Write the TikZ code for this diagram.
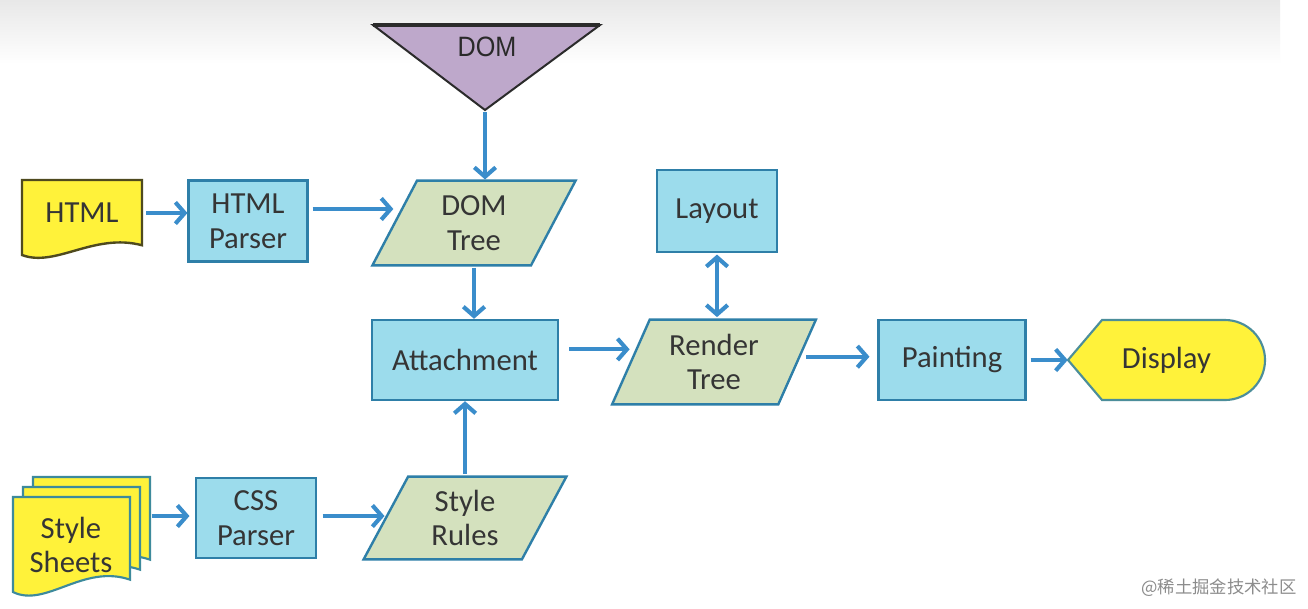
\documentclass[tikz,border=0pt]{standalone}
\usepackage{fontspec}
\setmainfont{Carlito}
\newfontfamily\cjkfont{Noto Sans CJK SC}
\newfontfamily\domfont{Liberation Sans}
\usetikzlibrary{shapes.geometric,arrows.meta,calc}
\definecolor{boxfill}{HTML}{9CDCEC}
\definecolor{boxline}{HTML}{2E7FA8}
\definecolor{parafill}{HTML}{D4E1BE}
\definecolor{yellowc}{HTML}{FFF23A}
\definecolor{htmlline}{HTML}{4F4A1E}
\definecolor{ssline}{HTML}{3D8A9C}
\definecolor{displine}{HTML}{4C8E9A}
\definecolor{domfill}{HTML}{BEA8CB}
\definecolor{domline}{HTML}{2B2B2B}
\definecolor{arrowc}{HTML}{3A8DCB}
\definecolor{textc}{HTML}{353535}
\newcommand{\docshape}[5]{%
  \path[#1] (#2,#3) -- ({#2+#4},#3) -- ({#2+#4},{#3+0.87*#5})
    .. controls ({#2+0.6*#4},{#3+0.7*#5}) and ({#2+0.28*#4},{#3+1.17*#5}) .. (#2,{#3+#5}) -- cycle;}
\tikzset{
  txt/.style={font=\fontsize{23}{26}\selectfont, text=textc, align=center},
  procbox/.style={txt, rectangle, draw=boxline, fill=boxfill, line width=1.8pt, inner sep=0pt},
  databox/.style={txt, trapezium, trapezium left angle=65, trapezium right angle=115,
    trapezium stretches=true, draw=boxline, fill=parafill, line width=1.8pt, inner sep=0pt,
    minimum width=153pt, minimum height=63.5pt},
  ghost/.style={txt, rectangle, inner sep=0pt},
  arr/.style={draw=arrowc, line width=3.1pt, -{Straight Barb[length=7pt,width=16pt]}},
  dblarr/.style={draw=arrowc, line width=3.1pt, {Straight Barb[length=7pt,width=16pt]}-{Straight Barb[length=7pt,width=16pt]}},
}
\begin{document}
\begin{tikzpicture}[x=0.75pt,y=-0.75pt]
\useasboundingbox (0,0) rectangle (1308,608);
\fill[white] (0,0) rectangle (1308,608);
\shade[top color=black!9, bottom color=white] (0,0) rectangle (1280,64);

% DOM triangle
\path[fill=domfill, draw=domline, line width=1.5pt, line join=miter] (373,25) -- (600,25) -- (485,110) -- cycle;
\draw[domline, line width=3pt] (373,25) -- (600,25);
\node[inner sep=0pt, text=textc!80!black, font=\domfont\fontsize{21}{24}\selectfont] (dom) at (487,47) {\scalebox{0.9}[1]{DOM}};
\coordinate (domtip) at (485,112);

% HTML document
\docshape{fill=yellowc, draw=htmlline, line width=1.8pt}{22}{180}{120}{75}
\node[ghost, minimum width=90pt, minimum height=49pt] (html) at (82,213) {HTML};

% Style sheets stack
\docshape{fill=yellowc, draw=ssline, line width=1.6pt}{33}{477}{117}{95}
\docshape{fill=yellowc, draw=ssline, line width=1.6pt}{23}{487}{117}{95}
\docshape{fill=yellowc, draw=ssline, line width=1.6pt}{13}{497}{117}{95}
\node[ghost, minimum width=87.75pt, minimum height=55pt] (ssback) at (91.5,516) {};
\node[ghost] (ss) at (71,545) {Style\\Sheets};

% Boxes
\node[procbox, minimum width=89pt, minimum height=61pt] (hp) at (248,221) {HTML\\Parser};
\node[databox] (dt) at (474,223) {DOM\\Tree};
\node[procbox, minimum width=90pt, minimum height=61.5pt] (lay) at (717,211) {Layout};
\node[procbox, minimum width=139.5pt, minimum height=60pt] (att) at (465,360) {Attachment};
\node[databox] (rt) at (714,362) {Render\\Tree};
\node[procbox, minimum width=110pt, minimum height=60pt] (paint) at (952,360) {Painting};
\node[procbox, minimum width=90pt, minimum height=60pt] (css) at (256,518) {CSS\\Parser};
\node[databox, minimum height=62pt] (sr) at (465,518) {Style\\Rules};

% Display
\path[fill=yellowc, draw=displine, line width=1.6pt] (1068,360) -- (1102,320) -- (1225,320)
  arc[start angle=90, end angle=-90, radius=30pt] -- (1102,400) -- cycle;
\node[ghost, minimum width=147.75pt, minimum height=60pt] (disp) at (1166.5,360) {Display};

% Connectors
\draw[arr, shorten <=3pt] (html.east) -- (html.east -| hp.west);
\draw[arr, shorten <=3pt] ([yshift=9pt]hp.east) -- ([yshift=9pt]hp.east -| dt.west);
\draw[arr] (domtip) -- (domtip |- dt.north);
\draw[arr, shorten <=1pt] (dt.south) -- (dt.south |- att.north);
\draw[arr, shorten <=1pt] (sr.north) -- (sr.north |- att.south);
\draw[arr, shorten <=7.5pt] ([yshift=8pt]att.east) -- ([yshift=8pt]att.east -| rt.west);
\draw[dblarr, shorten <=1pt, shorten >=1pt] (lay.south) -- (lay.south |- rt.north);
\draw[arr, shorten <=6pt, shorten >=6pt] ([yshift=4pt]rt.east) -- ([yshift=4pt]rt.east -| paint.west);
\draw[arr, shorten <=3pt] (paint.east) -- (disp.west);
\draw[arr, shorten <=1pt, shorten >=4pt] (ssback.east) -- (ssback.east -| css.west);
\draw[arr, shorten <=4pt] ([yshift=1.5pt]css.east) -- ([yshift=1.5pt]css.east -| sr.west);

% Watermark
\node[inner sep=0pt, text=black!45, font=\cjkfont\fontsize{13}{15}\selectfont] (wm) at (1219,588) {@稀土掘金技术社区};
\end{tikzpicture}
\end{document}
